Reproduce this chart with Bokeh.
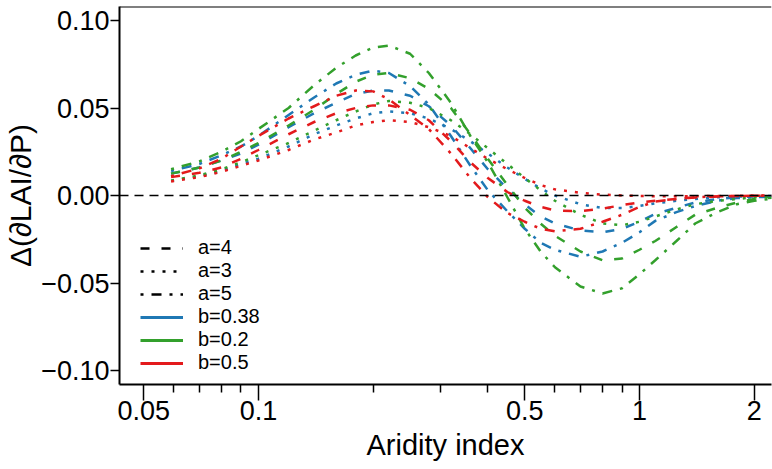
from bokeh.plotting import figure
from bokeh.models import (Range1d, FixedTicker, CustomJSTickFormatter, Span,
                          Legend, LegendItem)
from bokeh.embed import file_html
from bokeh.resources import INLINE

# ---------------- data ----------------
aridity = [0.059, 0.07, 0.08, 0.09, 0.1, 0.12, 0.14, 0.16, 0.18, 0.2, 0.22, 0.25,
           0.28, 0.32, 0.36, 0.4, 0.45, 0.5, 0.55, 0.6, 0.7, 0.8, 0.9, 1.0, 1.1,
           1.25, 1.4, 1.6, 1.8, 2.0, 2.3]

# b = 0.2 (green)
g_a5 = [0.015, 0.0195, 0.025, 0.031, 0.038, 0.050, 0.063, 0.073, 0.080, 0.0845, 0.0857, 0.081,
        0.070, 0.053, 0.034, 0.019, -0.001, -0.019, -0.032, -0.041, -0.052, -0.056, -0.053, -0.045, -0.037,
        -0.026, -0.016, -0.0095, -0.005, -0.003, -0.0015]
g_a4 = [0.0125, 0.016, 0.020, 0.025, 0.030, 0.040, 0.049, 0.058, 0.065, 0.069, 0.070, 0.067,
        0.061, 0.050, 0.035, 0.021, 0.006, -0.007, -0.016, -0.023, -0.032, -0.037, -0.036, -0.031, -0.026,
        -0.018, -0.011, -0.007, -0.004, -0.002, -0.001]
g_a3 = [0.0085, 0.0115, 0.015, 0.019, 0.023, 0.030, 0.037, 0.043, 0.048, 0.052, 0.054, 0.053,
        0.050, 0.043, 0.035, 0.027, 0.018, 0.010, 0.003, -0.003, -0.011, -0.016, -0.017, -0.015, -0.012,
        -0.008, -0.005, -0.003, -0.002, -0.001, -0.0005]

# b = 0.38 (blue)
b_a5 = [0.014, 0.018, 0.023, 0.028, 0.034, 0.046, 0.056, 0.064, 0.069, 0.0714, 0.070, 0.0625,
        0.052, 0.034, 0.017, 0.003, -0.009, -0.019, -0.027, -0.031, -0.035, -0.032, -0.027, -0.021, -0.0145,
        -0.0095, -0.006, -0.003, -0.0015, -0.001, -0.0005]
b_a4 = [0.0125, 0.016, 0.020, 0.024, 0.029, 0.039, 0.047, 0.053, 0.058, 0.060, 0.060, 0.057,
        0.051, 0.040, 0.027, 0.015, 0.004, -0.005, -0.012, -0.016, -0.020, -0.021, -0.019, -0.015, -0.0105,
        -0.007, -0.004, -0.002, -0.001, -0.0005, -0.0002]
b_a3 = [0.0085, 0.011, 0.014, 0.018, 0.021, 0.028, 0.035, 0.040, 0.044, 0.047, 0.048, 0.047,
        0.044, 0.038, 0.031, 0.024, 0.016, 0.0095, 0.004, 0.000, -0.005, -0.0072, -0.0072, -0.006, -0.0045,
        -0.003, -0.002, -0.001, -0.0006, -0.0004, -0.0002]

# b = 0.5 (red)
r_a5 = [0.011, 0.0155, 0.021, 0.028, 0.034, 0.044, 0.051, 0.057, 0.060, 0.0595, 0.055, 0.046,
        0.038, 0.024, 0.010, -0.001, -0.010, -0.015, -0.019, -0.0205, -0.019, -0.015, -0.011, -0.0065, -0.0035,
        -0.002, -0.001, -0.0005, -0.0003, -0.0002, -0.0001]
r_a4 = [0.0105, 0.013, 0.016, 0.021, 0.026, 0.035, 0.042, 0.047, 0.050, 0.0515, 0.0515, 0.049,
        0.043, 0.031, 0.019, 0.010, 0.002, -0.003, -0.0065, -0.0085, -0.009, -0.0075, -0.0055, -0.004, -0.003,
        -0.002, -0.0012, -0.0006, -0.0003, -0.0002, -0.0001]
r_a3 = [0.008, 0.0105, 0.0135, 0.017, 0.020, 0.026, 0.032, 0.036, 0.040, 0.042, 0.043, 0.042,
        0.039, 0.034, 0.027, 0.021, 0.015, 0.010, 0.006, 0.0035, 0.0015, 0.0005, 0.0, -0.0003, -0.0004,
        -0.0005, -0.0004, -0.0003, -0.0002, -0.0001, 0.0]

x_major_ticks = [0.05, 0.1, 0.5, 1, 2]
x_minor_ticks = [0.06, 0.07, 0.08, 0.09, 0.2, 0.3, 0.4, 0.6, 0.7, 0.8, 0.9]
y_ticks = [-0.10, -0.05, 0.0, 0.05, 0.10]

a_labels = ["a=4", "a=3", "a=5"]
b_labels = ["b=0.38", "b=0.2", "b=0.5"]

# ---------------- styles ----------------
BLUE, GREEN, RED = "#1F78B4", "#33A02C", "#E31A1C"
DASH = {"a=4": "9 12", "a=3": "3 8", "a=5": "3 8 10 8"}
FONT = "Liberation Sans"
LW = 2.5
X_LO, X_HI = 0.0432, 2.22
Y_LO, Y_HI = -0.108, 0.108

p = figure(width=772, height=469, x_axis_type="log",
           x_range=Range1d(X_LO, X_HI), y_range=Range1d(Y_LO, Y_HI),
           output_backend="svg", toolbar_location=None,
           min_border_left=119, min_border_right=1, min_border_top=6, min_border_bottom=85,
           background_fill_color="white", border_fill_color="white")

p.xgrid.visible = False
p.ygrid.visible = False
p.outline_line_color = None

# top border of the box (no right border visible in the reference)
p.add_layout(Span(location=Y_HI, dimension="width", line_color="black", line_width=2))

p.add_layout(Span(location=0, dimension="width", line_color="black",
                  line_dash="9 6", line_width=1.5))

series = [
    (b_a4, BLUE, "a=4"), (b_a3, BLUE, "a=3"), (b_a5, BLUE, "a=5"),
    (g_a4, GREEN, "a=4"), (g_a3, GREEN, "a=3"), (g_a5, GREEN, "a=5"),
    (r_a4, RED, "a=4"), (r_a3, RED, "a=3"), (r_a5, RED, "a=5"),
]
for ys, col, a in series:
    p.line(aridity, ys, line_color=col, line_width=LW, line_dash=DASH[a])

# legend (key-only renderers placed outside the visible ranges)
far_x = [X_HI * 10, X_HI * 20]
far_y = [Y_HI * 10, Y_HI * 10]
items = []
for a in a_labels:
    r = p.line(far_x, far_y, line_color="black", line_width=LW, line_dash=DASH[a])
    items.append(LegendItem(label=a, renderers=[r]))
for lab, col in zip(b_labels, [BLUE, GREEN, RED]):
    r = p.line(far_x, far_y, line_color=col, line_width=LW + 0.5)
    items.append(LegendItem(label=lab, renderers=[r]))

legend = Legend(items=items, location=(21, 10), border_line_color=None,
                background_fill_alpha=0, padding=0, margin=0, spacing=0,
                glyph_width=43, glyph_height=22, label_height=22,
                label_standoff=15, label_text_font=FONT,
                label_text_font_size="20px", label_text_color="black")
p.add_layout(legend)

# axes
p.xaxis.ticker = FixedTicker(ticks=x_major_ticks, minor_ticks=x_minor_ticks)
p.xaxis.formatter = CustomJSTickFormatter(code="return tick.toString();")
p.yaxis.ticker = FixedTicker(ticks=y_ticks)
p.yaxis.formatter = CustomJSTickFormatter(
    code="var v = Math.abs(tick) < 1e-9 ? 0 : tick; return v.toFixed(2).replace('-', '\u2212');")

for ax in (p.xaxis[0], p.yaxis[0]):
    ax.axis_line_color = "black"
    ax.axis_line_width = 2
    ax.major_tick_line_color = "black"
    ax.major_tick_line_width = 1.5
    ax.minor_tick_line_color = "black"
    ax.minor_tick_line_width = 1.5
    ax.major_tick_in = 0
    ax.minor_tick_in = 0
    ax.major_label_text_font = FONT
    ax.major_label_text_font_size = "27px"
    ax.major_label_text_color = "black"
    ax.axis_label_text_font = FONT
    ax.axis_label_text_font_style = "normal"
    ax.axis_label_text_color = "black"

p.xaxis.major_tick_out = 16
p.xaxis.minor_tick_out = 8
p.xaxis.major_label_standoff = 0
p.xaxis.axis_label = "Aridity index"
p.xaxis.axis_label_text_font_size = "29px"
p.xaxis.axis_label_standoff = 6

p.yaxis.major_tick_out = 9
p.yaxis.minor_tick_out = 0
p.yaxis.major_label_standoff = 1
p.yaxis.axis_label = "Δ(∂LAI/∂P)"
p.yaxis.axis_label_text_font_size = "30px"
p.yaxis.axis_label_standoff = 1

open("out.html", "w").write(file_html(p, INLINE))
